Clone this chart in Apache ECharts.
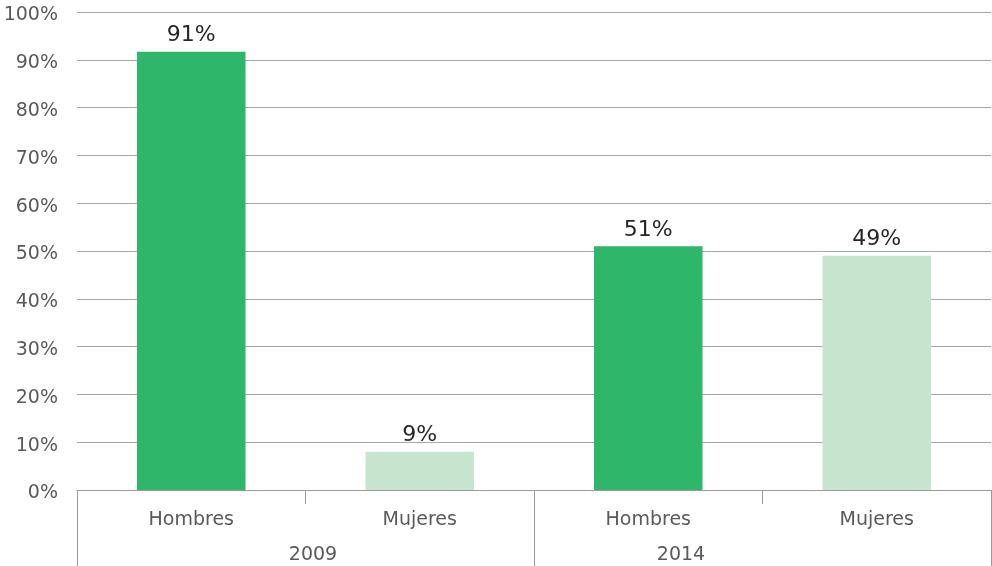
<!DOCTYPE html>
<html>
<head>
<meta charset="utf-8">
<script src="https://cdn.jsdelivr.net/npm/echarts@6/dist/echarts.min.js"></script>
<style>
html,body{margin:0;padding:0;background:#fff;}
#chart{width:992px;height:566px;}
</style>
</head>
<body>
<div id="chart"></div>
<script>
const categories = ['Hombres', 'Mujeres', 'Hombres', 'Mujeres'];
const years = ['2009', '2014'];
const values = [91.7, 8.0, 51, 49];
const valueLabels = ['91%', '9%', '51%', '49%'];
const barColors = ['#2eb66b', '#c6e4ce', '#2eb66b', '#c6e4ce'];
const yTicks = [0, 10, 20, 30, 40, 50, 60, 70, 80, 90, 100];

const FONT = 'DejaVu Sans, Verdana, sans-serif';
const chart = echarts.init(document.getElementById('chart'), null, {renderer: 'canvas'});

chart.setOption({
  animation: false,
  backgroundColor: '#fff',
  grid: {left: 77, right: 1, top: 12, bottom: 76, containLabel: false},
  xAxis: [
    {
      type: 'category',
      data: categories,
      position: 'bottom',
      offset: 0,
      z: 5,
      axisLine: {show: true, lineStyle: {color: '#9a9a9a', width: 1}},
      axisTick: {show: true, length: 14, lineStyle: {color: '#9a9a9a'}},
      axisLabel: {color: '#595959', fontFamily: FONT, fontSize: 19, margin: 21},
      splitLine: {show: false}
    },
    {
      type: 'category',
      data: years,
      position: 'bottom',
      offset: 0,
      axisLine: {show: false},
      axisTick: {show: true, length: 76, lineStyle: {color: '#9a9a9a'}},
      axisLabel: {
        color: '#595959', fontFamily: FONT, fontSize: 19, margin: 56,
        formatter: function (v, i) { return '{y' + i + '|' + v + '}'; },
        rich: {
          y0: {color: '#595959', fontFamily: FONT, fontSize: 19, padding: [0, 0, 0, 15]},
          y1: {color: '#595959', fontFamily: FONT, fontSize: 19, padding: [0, 163, 0, 0]}
        }
      },
      splitLine: {show: false}
    }
  ],
  yAxis: {
    type: 'value',
    min: yTicks[0],
    max: yTicks[yTicks.length - 1],
    interval: yTicks[1] - yTicks[0],
    axisLine: {show: false},
    axisTick: {show: false},
    axisLabel: {
      color: '#595959', fontFamily: FONT, fontSize: 19, margin: 19,
      verticalAlign: 'top', lineHeight: 7,
      formatter: function (v) { return v + '%'; }
    },
    splitLine: {show: true, lineStyle: {color: '#a6a6a6', width: 1}}
  },
  series: [{
    type: 'bar',
    xAxisIndex: 0,
    barWidth: '47.5%',
    data: values.map(function (v, i) {
      return {value: v, itemStyle: {color: barColors[i]}};
    }),
    label: {
      show: true,
      position: 'top',
      distance: 5,
      color: '#262626',
      fontFamily: FONT,
      fontSize: 22,
      formatter: function (p) { return valueLabels[p.dataIndex]; }
    }
  }]
});
</script>
</body>
</html>
